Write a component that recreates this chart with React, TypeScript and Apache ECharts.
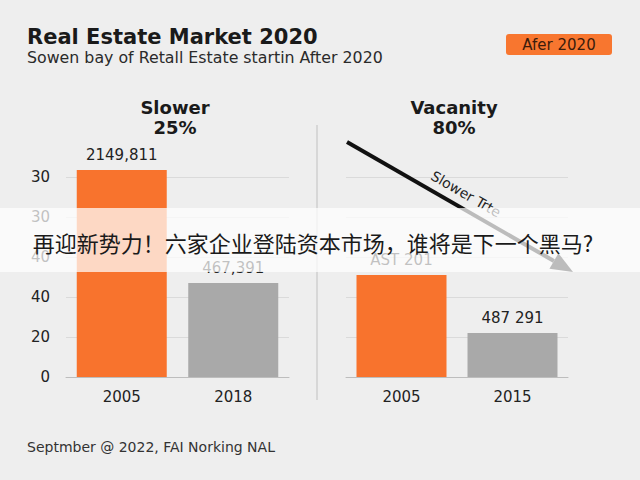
import React, { useEffect, useRef } from 'react';
import * as echarts from 'echarts';

const titleText = 'Real Estate Market 2020';
const subtitleText = 'Sowen bay of Retall Estate startin After 2020';
const badgeText = 'Afer 2020';
const footerText = 'Septmber @ 2022, FAI Norking NAL';
const bannerText = '再迎新势力！六家企业登陆资本市场，谁将是下一个黑马?';
const arrowText = 'Slower Trte';

const leftHeader = ['Slower', '25%'];
const rightHeader = ['Vacanity', '80%'];

const leftCategories = ['2005', '2018'];
const leftValues = [103.5, 47];
const leftValueLabels = ['2149,811', '467,391'];

const rightCategories = ['2005', '2015'];
const rightValues = [51, 22];
const rightValueLabels = ['AST 201', '487 291'];

const yTickValues = [0, 20, 40, 60, 80, 100];
const yTickLabels = ['0', '20', '40', '40', '30', '30'];

const ORANGE = '#f8732d';
const GRAY = '#a9a9a9';
const barColors = [ORANGE, GRAY];
const FONT = '"DejaVu Sans", "Liberation Sans", sans-serif';

function makeBarData(values: number[], labels: string[]) {
  return values.map((v, i) => ({
    value: v,
    itemStyle: { color: barColors[i] },
    label: { formatter: labels[i] },
  }));
}

export default function App() {
  const ref = useRef<HTMLDivElement>(null);

  useEffect(() => {
    if (!ref.current) return;
    const chart = echarts.init(ref.current, undefined, { renderer: 'svg' });

    // arrow geometry (decoration)
    const ax1 = 347, ay1 = 142, ax2 = 573, ay2 = 272;
    const dx = ax2 - ax1, dy = ay2 - ay1;
    const len = Math.sqrt(dx * dx + dy * dy);
    const ux = dx / len, uy = dy / len;
    const headLen = 22, headHalf = 9;
    const bx = ax2 - ux * headLen, by = ay2 - uy * headLen;
    const px = -uy * headHalf, py = ux * headHalf;
    const angle = Math.atan2(dy, dx);

    const axisLabelBase = { color: '#222', fontSize: 15, fontFamily: FONT };

    const option: any = {
      animation: false,
      backgroundColor: '#eeeeee',
      grid: [
        { left: 66, top: 177, width: 223, height: 200 },
        { left: 346, top: 177, width: 222, height: 200 },
      ],
      xAxis: [0, 1].map((gi) => ({
        type: 'category',
        gridIndex: gi,
        data: gi === 0 ? leftCategories : rightCategories,
        axisTick: { show: false },
        axisLine: { lineStyle: { color: '#bdbdbd', width: 1 } },
        axisLabel: { ...axisLabelBase, margin: 12 },
      })),
      yAxis: [0, 1].map((gi) => ({
        type: 'value',
        gridIndex: gi,
        min: 0,
        max: 100,
        interval: 20,
        axisLine: { show: false },
        axisTick: { show: false },
        splitLine: { lineStyle: { color: '#dadada', width: 1 } },
        axisLabel: {
          ...axisLabelBase,
          show: gi === 0,
          margin: 16,
          formatter: (v: number) => {
            const idx = yTickValues.indexOf(v);
            return idx >= 0 ? yTickLabels[idx] : '';
          },
        },
      })),
      series: [
        {
          type: 'bar',
          xAxisIndex: 0,
          yAxisIndex: 0,
          barWidth: 90,
          clip: false,
          data: makeBarData(leftValues, leftValueLabels),
          label: { show: true, position: 'top', distance: 8, fontSize: 15, fontFamily: FONT, color: '#222' },
        },
        {
          type: 'bar',
          xAxisIndex: 1,
          yAxisIndex: 1,
          barWidth: 90,
          clip: false,
          data: makeBarData(rightValues, rightValueLabels),
          label: { show: true, position: 'top', distance: 8, fontSize: 15, fontFamily: FONT, color: '#222' },
        },
      ],
      graphic: {
        elements: [
          {
            type: 'text', x: 27, y: 37, z: 10,
            style: { text: titleText, font: `bold 21px ${FONT}`, fill: '#1a1a1a', textVerticalAlign: 'middle' },
          },
          {
            type: 'text', x: 27, y: 57, z: 10,
            style: { text: subtitleText, font: `15.8px ${FONT}`, fill: '#2a2a2a', textVerticalAlign: 'middle' },
          },
          {
            type: 'rect', z: 10,
            shape: { x: 506, y: 34, width: 106, height: 21, r: 3 },
            style: { fill: '#f8762f' },
          },
          {
            type: 'text', x: 559, y: 44.5, z: 11,
            style: { text: badgeText, font: `15px ${FONT}`, fill: '#3b1c0c', textAlign: 'center', textVerticalAlign: 'middle' },
          },
          {
            type: 'text', x: 175, y: 117, z: 10,
            style: { text: leftHeader.join('\n'), font: `bold 18px ${FONT}`, lineHeight: 20, fill: '#1a1a1a', textAlign: 'center', textVerticalAlign: 'middle' },
          },
          {
            type: 'text', x: 454, y: 117, z: 10,
            style: { text: rightHeader.join('\n'), font: `bold 18px ${FONT}`, lineHeight: 20, fill: '#1a1a1a', textAlign: 'center', textVerticalAlign: 'middle' },
          },
          {
            type: 'line', z: 5,
            shape: { x1: 317, y1: 125, x2: 317, y2: 400 },
            style: { stroke: '#cfcfcf', lineWidth: 1.5 },
          },
          {
            type: 'line', z: 50,
            shape: { x1: ax1, y1: ay1, x2: bx, y2: by },
            style: { stroke: '#111', lineWidth: 4 },
          },
          {
            type: 'polygon', z: 50,
            shape: { points: [[ax2, ay2], [bx + px, by + py], [bx - px, by - py]] },
            style: { fill: '#111' },
          },
          {
            type: 'text', x: 466, y: 194, z: 50, rotation: -angle,
            style: { text: arrowText, font: `14px ${FONT}`, fill: '#222', textAlign: 'center', textVerticalAlign: 'middle' },
          },
          {
            type: 'rect', z: 100,
            shape: { x: 0, y: 208, width: 640, height: 64 },
            style: { fill: 'rgba(255,255,255,0.72)' },
          },
          {
            type: 'text', x: 313, y: 242, z: 101,
            style: { text: bannerText, font: '22px "Noto Sans CJK SC", sans-serif', fill: '#1a1a1a', textAlign: 'center', textVerticalAlign: 'middle' },
          },
          {
            type: 'text', x: 27, y: 447, z: 10,
            style: { text: footerText, font: `14px ${FONT}`, fill: '#333', textVerticalAlign: 'middle' },
          },
        ],
      },
    };

    chart.setOption(option);
    return () => chart.dispose();
  }, []);

  return (
    <div
      ref={ref}
      style={{ position: 'fixed', left: 0, top: 0, width: 640, height: 480, background: '#eeeeee' }}
    />
  );
}
